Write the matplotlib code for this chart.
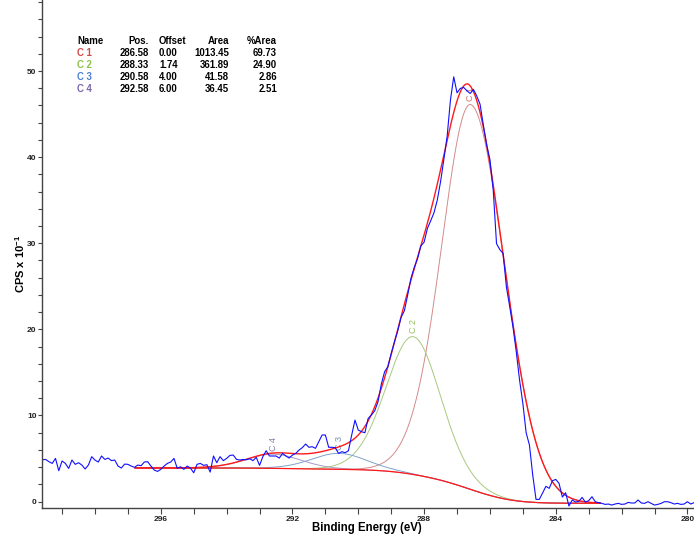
import numpy as np
import matplotlib
matplotlib.use('Agg')
import matplotlib.pyplot as plt
from matplotlib.ticker import MultipleLocator

plt.rcParams['font.family'] = ['Liberation Sans', 'DejaVu Sans']
plt.rcParams['mathtext.fontset'] = 'custom'
plt.rcParams['mathtext.rm'] = 'Liberation Sans'
plt.rcParams['mathtext.bf'] = 'Liberation Sans:bold'

# fit table
names = ['C 1', 'C 2', 'C 3', 'C 4']
positions = [286.58, 288.33, 290.58, 292.58]
offsets = [0.00, 1.74, 4.00, 6.00]
areas = [1013.45, 361.89, 41.58, 36.45]
pct_area = [69.73, 24.90, 2.86, 2.51]

# peak shape (height above background, widths in eV)
heights = [44.7, 16.0, 1.85, 1.65]
fwhm_high = [2.2, 2.05, 2.05, 2.05]   # high binding energy side
fwhm_low = [2.45, 2.05, 2.05, 2.05]   # low binding energy side
mix_low = [0.1, 0.3, 0.3, 0.3]
fit_range = (296.78, 282.65)
bg_high, bg_low = 3.9, -0.2

# measured spectrum, 0.1 eV steps starting at 299.6 eV
be_start, be_step = 299.6, 0.1
cps = [4.85, 4.89, 4.63, 4.43, 5.01, 3.58, 4.71, 4.43, 3.85, 4.82,
       4.32, 4.51, 4.24, 3.78, 4.24, 5.21, 4.82, 4.59, 5.29, 4.89,
       5.05, 4.75, 4.82, 4.12, 3.89, 4.35, 4.32, 4.12, 3.97, 4.24,
       4.16, 4.59, 4.63, 4.12, 3.66, 3.50, 3.74, 4.12, 4.43, 4.59,
       5.01, 3.85, 4.04, 3.74, 4.12, 3.89, 3.34, 4.32, 4.43, 4.20,
       4.28, 3.42, 5.29, 4.51, 5.21, 4.75, 5.01, 5.36, 5.40, 4.89,
       4.82, 4.89, 4.85, 4.97, 4.75, 5.13, 4.20, 5.21, 5.90, 5.29,
       5.29, 5.29, 5.05, 5.59, 5.29, 5.05, 5.40, 5.59, 5.98, 6.26,
       6.68, 6.30, 6.37, 6.18, 6.95, 7.73, 7.73, 6.30, 6.30, 6.26,
       5.59, 5.79, 5.67, 5.90, 7.73, 9.46, 8.30, 8.11, 7.99, 9.66,
       10.05, 10.55, 11.60, 13.65, 15.08, 15.66, 17.20, 18.56, 19.84, 21.39,
       22.16, 23.98, 25.92, 27.19, 28.20, 29.67, 30.13, 31.72, 32.61, 33.54,
       35.01, 37.16, 39.74, 42.44, 46.63, 49.33, 47.47, 47.98, 48.10, 47.71,
       47.40, 47.86, 47.09, 46.14, 43.72, 41.40, 39.72, 36.17, 29.95, 29.26,
       28.82, 24.92, 22.65, 20.28, 17.40, 14.11, 11.40, 7.99, 6.56, 3.08,
       0.25, 0.25, 0.99, 1.77, 1.53, 2.42, 2.57, 2.11, 0.52, 1.02,
       -0.52, 0.18, -0.06, 0.02, 0.48, -0.06, 0.10, 0.56, -0.02, -0.13,
       -0.21, -0.33, -0.29, -0.41, -0.29, -0.21, -0.33, -0.29, -0.10, -0.17,
       -0.17, 0.18, -0.17, -0.21, -0.02, -0.21, -0.41, -0.33, -0.21, -0.02,
       -0.02, -0.13, -0.29, -0.21, -0.33, -0.29, -0.02, -0.29, -0.13]

comp_colors = ['#d48a8a', '#a9c97f', '#7ea3c9', '#a79bc2']
label_colors = ['#cf6f6f', '#93bd5c', '#6f93b8', '#8a7aaa']
table_colors = ['#d04848', '#8cbf4a', '#4f7fd0', '#7c64a8']


def gl(x, pos, h, w, m):
    t = (x - pos) ** 2 / w ** 2
    return h * np.exp(-4 * np.log(2) * (1 - m) * t) / (1 + 4 * m * t)


def peak(x, pos, h, wh, wl, ml):
    # asymmetric GL(30): separate width on each side of the centre
    return np.where(x >= pos, gl(x, pos, h, wh, 0.3), gl(x, pos, h, wl, ml))


be = be_start - be_step * np.arange(len(cps))
e = np.linspace(fit_range[0], fit_range[1], 800)
comps = [peak(e, p, h, wh, wl, ml)
         for p, h, wh, wl, ml in zip(positions, heights, fwhm_high, fwhm_low, mix_low)]
peak_sum = np.sum(comps, axis=0)
# shirley type background
cum = np.cumsum(peak_sum[::-1])[::-1]
bg = bg_low + (bg_high - bg_low) * cum / cum[0]

fig = plt.figure(figsize=(6.94, 5.35), dpi=100)
ax = fig.add_axes([42 / 694, 27 / 535, 652 / 694, 508 / 535])

for c, col in zip(comps, comp_colors):
    ax.plot(e, bg + c, color=col, lw=0.7)
ax.plot(e, bg, color='#ff1a1a', lw=0.9)
ax.plot(e, bg + peak_sum, color='#ff1a1a', lw=1.0)
ax.plot(be, cps, color='#1010ff', lw=0.8)

for name, p, c, col in zip(names, positions, comps, label_colors):
    top = np.max(bg + c)
    ax.text(p, top + 0.4, name, rotation=90, ha='center', va='bottom',
            fontsize=6.5, color=col, zorder=1)

ax.set_xlim(299.61, 279.8)
ax.set_ylim(-0.75, 58.25)
ax.xaxis.set_major_locator(MultipleLocator(4))
ax.xaxis.set_minor_locator(MultipleLocator(1))
ax.yaxis.set_major_locator(MultipleLocator(10))
ax.yaxis.set_minor_locator(MultipleLocator(2))
ax.tick_params(which='both', direction='out', length=4, width=0.8,
               color='#444444', labelsize=6, labelcolor='#222222', pad=2)
ax.tick_params(axis='y', which='both', length=3, pad=1)
for lab in ax.get_xticklabels() + ax.get_yticklabels():
    lab.set_fontweight('bold')
ax.spines['top'].set_visible(False)
ax.spines['right'].set_visible(False)
for s in ['left', 'bottom']:
    ax.spines[s].set_color('#444444')
    ax.spines[s].set_linewidth(1.0)

fig.text(367 / 694, 1 - 528 / 535, 'Binding Energy (eV)', ha='center',
         va='center', fontsize=8.3, fontweight='bold')
fig.text(20 / 694, 1 - 264 / 535, 'CPS x 10$^{\\mathbf{-1}}$', rotation=90,
         ha='center', va='center', fontsize=8, fontweight='bold')

# results table
rows_y = [41, 53, 65, 77, 89]
heads = ['Name', 'Pos.', 'Offset', 'Area', '%Area']
cols_x = [77, 149, 159, 229, 277]
aligns = ['left', 'right', 'left', 'right', 'right']
for hx, ha, txt in zip(cols_x, aligns, heads):
    fig.text(hx / 694, 1 - rows_y[0] / 535, txt, ha=ha, va='center',
             fontsize=6.9, fontweight='bold')
for i in range(len(names)):
    y = 1 - rows_y[i + 1] / 535
    vals = [names[i], '%.2f' % positions[i], '%.2f' % offsets[i],
            '%.2f' % areas[i], '%.2f' % pct_area[i]]
    for j, (hx, ha, txt) in enumerate(zip(cols_x, aligns, vals)):
        fig.text(hx / 694, y, txt, ha=ha, va='center', fontsize=6.9,
                 fontweight='bold', color=table_colors[i] if j == 0 else 'black')

fig.savefig('out.png', dpi=100)
